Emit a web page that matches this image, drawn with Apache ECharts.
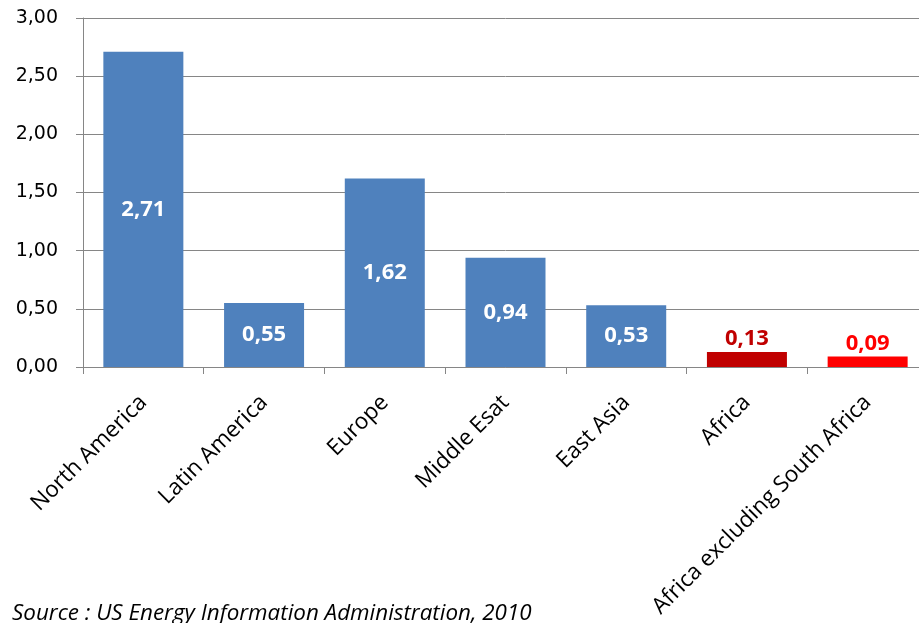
<!DOCTYPE html>
<html><head><meta charset="utf-8">
<script src="https://cdn.jsdelivr.net/npm/echarts@6/dist/echarts.min.js"></script>
<style>html,body{margin:0;padding:0;background:#fff;overflow:hidden;width:919px;height:623px}#c{width:928px;height:623px}</style>
</head><body><div id="c"></div>
<script>
const categories = ["North America","Latin America","Europe","Middle Esat","East Asia","Africa","Africa excluding South Africa"];
const values = [2.71, 0.55, 1.62, 0.94, 0.53, 0.13, 0.09];
const barColors = ["#4F81BD","#4F81BD","#4F81BD","#4F81BD","#4F81BD","#C00000","#FF0000"];
const insideLabel = [true,true,true,true,true,false,false];
const yTicks = [0,0.5,1,1.5,2,2.5,3];
const sourceText = "Source : US Energy Information Administration, 2010";
const fmt = v => v.toFixed(2).replace('.', ',');
const font = "'Open Sans', 'Noto Sans', sans-serif";
const numFont = "'DejaVu Sans', sans-serif";
const chart = echarts.init(document.getElementById('c'));
chart.setOption({
  animation:false,
  grid:{left:83,right:0,top:18,bottom:256,containLabel:false},
  xAxis:{type:'category',data:categories,
    axisLine:{lineStyle:{color:'#868686',width:1}},
    axisTick:{show:true,length:7,lineStyle:{color:'#868686'}},
    axisLabel:{rotate:45,fontSize:22.5,color:'#000',fontFamily:font,margin:32,interval:0}},
  yAxis:{type:'value',min:0,max:3,interval:0.5,
    axisLine:{show:true,lineStyle:{color:'#868686'}},
    axisTick:{show:true,length:7,lineStyle:{color:'#868686'}},
    splitLine:{lineStyle:{color:'#868686',width:1}},
    axisLabel:{fontSize:19,color:'#000',fontFamily:numFont,margin:25,formatter:v=>fmt(v)}},
  series:[{type:'bar',barWidth:80,
    data:values.map((v,i)=>({value:v,itemStyle:{color:barColors[i]},
      label:{show:true,position:insideLabel[i]?'inside':'top',
        color:insideLabel[i]?'#fff':barColors[i],fontWeight:'bold',fontSize:22,fontFamily:font,distance:2,
        formatter:p=>fmt(p.value)}}))}],
  graphic:[{type:'text',left:12,top:603,style:{text:sourceText,fontSize:22.4,fontStyle:'italic',fill:'#000',fontFamily:font}}]
});
</script></body></html>
